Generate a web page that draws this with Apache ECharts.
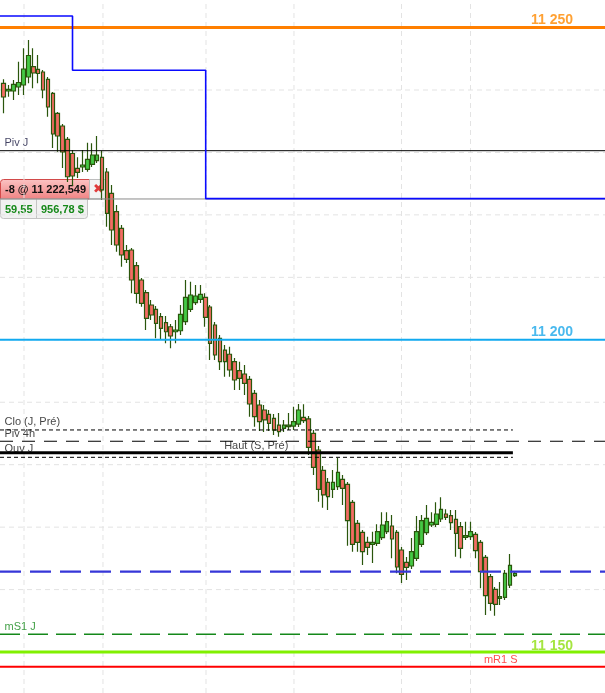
<!DOCTYPE html>
<html lang="fr">
<head>
<meta charset="UTF-8">
<title>Graphique 1 min</title>
<script src="https://cdn.jsdelivr.net/npm/echarts@6.0.0/dist/echarts.min.js"></script>
<style>
    html, body { margin: 0; padding: 0; background: #ffffff; }
    #chart { width: 605px; height: 693px; }
</style>
</head>
<body>
<div id="chart"></div>
<script type="text/javascript">
    // bougies : [ouverture, clôture, plus bas, plus haut]
    var candles = [
        [11241.07, 11238.88, 11236.27, 11241.71], [11239.84, 11240.11, 11238.93, 11240.80],
        [11239.84, 11240.91, 11238.40, 11241.60], [11240.48, 11241.20, 11239.20, 11244.53],
        [11240.80, 11243.36, 11239.20, 11246.68], [11242.08, 11245.52, 11241.07, 11248.00],
        [11243.73, 11242.72, 11240.27, 11246.68], [11243.31, 11242.64, 11241.07, 11245.60],
        [11242.88, 11240.00, 11238.67, 11243.20], [11241.71, 11237.28, 11235.72, 11242.08],
        [11239.47, 11232.95, 11230.71, 11239.68], [11236.27, 11232.63, 11230.12, 11236.48],
        [11234.23, 11230.07, 11227.51, 11234.55], [11232.10, 11226.11, 11225.27, 11232.47],
        [11229.83, 11226.23, 11224.63, 11230.39], [11227.46, 11226.82, 11225.91, 11229.22],
        [11227.67, 11227.99, 11226.87, 11230.39], [11227.30, 11228.90, 11226.92, 11231.56],
        [11228.10, 11229.59, 11227.67, 11231.46], [11228.68, 11229.59, 11228.31, 11232.63],
        [11229.22, 11223.99, 11222.38, 11230.28], [11226.87, 11220.25, 11218.11, 11227.51],
        [11223.46, 11217.58, 11215.18, 11224.79], [11220.51, 11215.18, 11214.10, 11221.58],
        [11217.85, 11213.58, 11211.70, 11218.38], [11214.27, 11212.89, 11212.30, 11215.18],
        [11214.38, 11209.57, 11207.44, 11214.70], [11211.86, 11207.44, 11205.84, 11212.46],
        [11209.57, 11205.84, 11205.30, 11209.89], [11207.54, 11203.44, 11201.57, 11207.97],
        [11205.57, 11203.97, 11203.17, 11206.37], [11204.88, 11202.64, 11200.24, 11205.41],
        [11203.70, 11201.84, 11199.97, 11204.29], [11202.74, 11201.29, 11199.44, 11203.81],
        [11202.09, 11200.61, 11198.64, 11202.53], [11201.29, 11201.57, 11199.44, 11203.17],
        [11201.45, 11204.08, 11200.77, 11205.57], [11202.90, 11206.80, 11202.37, 11209.57],
        [11204.88, 11207.17, 11204.45, 11209.30], [11205.94, 11207.01, 11205.57, 11208.77],
        [11206.48, 11207.28, 11205.89, 11208.77], [11206.80, 11203.60, 11202.09, 11207.44],
        [11205.25, 11199.44, 11196.76, 11205.57], [11202.37, 11197.56, 11196.76, 11202.85],
        [11200.24, 11196.49, 11195.16, 11200.77], [11198.36, 11196.49, 11194.09, 11199.17],
        [11197.68, 11195.16, 11194.09, 11198.89], [11196.49, 11193.56, 11191.96, 11197.08],
        [11195.05, 11193.83, 11191.96, 11196.49], [11194.52, 11193.03, 11191.16, 11195.96],
        [11193.67, 11189.72, 11187.68, 11194.20], [11191.43, 11187.68, 11186.08, 11191.96],
        [11189.56, 11186.88, 11185.39, 11190.36], [11188.76, 11187.16, 11185.23, 11189.56],
        [11188.07, 11186.63, 11185.39, 11188.76], [11187.43, 11185.55, 11184.75, 11188.12],
        [11186.35, 11185.28, 11184.48, 11188.28], [11185.83, 11186.35, 11185.23, 11187.16],
        [11186.08, 11186.35, 11185.55, 11188.28], [11186.19, 11186.88, 11185.55, 11189.28],
        [11186.51, 11188.76, 11186.03, 11189.72], [11187.59, 11187.04, 11186.67, 11189.67],
        [11187.32, 11182.78, 11181.55, 11187.80], [11185.02, 11179.58, 11178.35, 11185.55],
        [11182.35, 11176.06, 11174.07, 11182.99], [11179.10, 11175.15, 11173.11, 11179.79],
        [11177.18, 11174.87, 11172.74, 11177.87], [11176.06, 11177.18, 11174.66, 11179.15],
        [11176.48, 11178.78, 11175.95, 11181.12], [11177.66, 11176.22, 11173.54, 11178.35],
        [11176.86, 11171.03, 11167.03, 11177.23], [11173.98, 11167.25, 11166.07, 11174.34],
        [11170.61, 11167.57, 11166.07, 11171.14], [11169.17, 11166.07, 11163.94, 11169.54],
        [11167.57, 11166.77, 11165.54, 11168.47], [11167.25, 11167.57, 11164.26, 11169.27],
        [11167.41, 11169.27, 11166.98, 11170.45], [11168.31, 11170.34, 11167.94, 11172.38],
        [11169.27, 11170.87, 11168.90, 11172.38], [11170.18, 11168.10, 11165.01, 11171.94],
        [11169.17, 11163.62, 11162.61, 11169.54], [11166.34, 11162.45, 11161.05, 11166.82],
        [11164.37, 11163.57, 11161.53, 11165.22], [11163.78, 11166.07, 11163.30, 11168.26],
        [11165.01, 11169.27, 11164.58, 11171.78], [11167.25, 11171.03, 11166.82, 11171.94],
        [11169.11, 11171.41, 11168.74, 11173.54], [11170.34, 11170.77, 11170.02, 11172.38],
        [11170.45, 11172.10, 11170.02, 11173.98], [11171.30, 11172.85, 11170.82, 11174.77],
        [11172.10, 11171.57, 11171.14, 11172.85], [11171.83, 11170.71, 11169.54, 11172.74],
        [11171.25, 11169.01, 11165.26, 11172.74], [11170.07, 11166.61, 11165.01, 11170.82],
        [11168.37, 11168.63, 11167.94, 11170.87], [11168.47, 11169.27, 11167.94, 11170.87],
        [11168.85, 11166.23, 11165.01, 11169.22], [11167.57, 11162.86, 11160.20, 11167.94],
        [11165.17, 11159.02, 11155.93, 11165.54], [11162.06, 11157.80, 11156.62, 11162.50],
        [11160.04, 11157.64, 11155.82, 11160.41], [11158.60, 11158.86, 11157.53, 11161.21],
        [11158.76, 11162.61, 11158.33, 11163.14], [11160.73, 11163.89, 11160.25, 11165.70],
        [11162.22, 11162.61, 11162.01, 11162.82]
    ];

    // niveaux horizontaux
    var levelKeys   = ['r11250', 'pivJ', 'entry', 'r11200', 'cloJ', 'piv4h', 'hautS', 'ouvJ', 'blueDash', 'ms1J', 'r11150', 'mr1S'];
    var levelTexts  = ['11 250', 'Piv J', '', '11 200', 'Clo (J, Pré)', 'Piv 4h', 'Haut (S, Pré)', 'Ouv J', '', 'mS1 J', '11 150', 'mR1 S'];
    var levelPrices = [11250, 11230.28, 11222.549, 11200, 11185.56, 11183.75, 11181.92, 11181.18, 11162.87, 11152.84, 11150, 11147.65];

    // stop suiveur (marches)
    var stopTimes  = [14, 41.1];
    var stopLevels = [11251.85, 11243.15, 11222.6];

    // grille
    var gridPrices = [11150, 11160, 11170, 11180, 11190, 11200, 11210, 11220, 11230, 11240, 11250];
    var gridTimes  = [4.13, 20.2, 41.16, 59.06, 80.93, 94.97];

    // position ouverte
    var positionQty = -8;
    var entryPrice = 11222.549;
    var resultPoints = '59,55';
    var resultMoney = '956,78 $';

    var xMin = -0.753, xMax = 122.34;
    var yMin = 11143.44, yMax = 11254.41;
    var FONT = '"Liberation Sans", Arial, sans-serif';

    // style de chaque niveau (end = fin de la ligne en unités de barre, sinon toute la largeur)
    var levelStyle = {
        r11250:   { color: '#ff7f00', width: 3, type: 'solid', label: { side: 'right', dx: -31.5, dy: -6.5, color: '#ff8a00', bold: true, size: 14 } },
        pivJ:     { color: '#000000', width: 1, type: 'solid', label: { side: 'left', dx: 5, dy: -7, color: '#14143c' } },
        entry:    { color: '#8a8a8a', width: 1, type: 'solid' },
        r11200:   { color: '#12aaf0', width: 2, type: 'solid', label: { side: 'right', dx: -31.5, dy: -7, color: '#1ba8ea', bold: true, size: 14 } },
        cloJ:     { color: '#000000', width: 1, type: [4, 3], end: 103.6, label: { side: 'left', dx: 5, dy: -7, color: '#111111' } },
        piv4h:    { color: '#000000', width: 1.2, type: [13, 9], label: { side: 'left', dx: 5, dy: -6.5, color: '#111111' } },
        hautS:    { color: '#000000', width: 3, type: 'solid', end: 103.6, label: { side: 'at', x: 51.48, dx: 0, dy: -6.5, color: '#111111' } },
        ouvJ:     { color: '#000000', width: 1, type: [4, 3], end: 103.6, label: { side: 'left', dx: 5, dy: -7.5, color: '#111111' } },
        blueDash: { color: '#3636d8', width: 2.4, type: [21, 9] },
        ms1J:     { color: '#14881a', width: 1.5, type: [20, 8], label: { side: 'left', dx: 5, dy: -7, color: '#14881a' } },
        r11150:   { color: '#80f000', width: 3, type: 'solid', label: { side: 'right', dx: -31.5, dy: -5.5, color: '#8edf10', bold: true, size: 14 } },
        mr1S:     { color: '#ff0000', width: 2, type: 'solid', label: { side: 'right', dx: -87, dy: -6.5, color: '#ff2020' } }
    };

    function frNumber(v, dec) {
        var parts = v.toFixed(dec).split('.');
        parts[0] = parts[0].replace(/\B(?=(\d{3})+(?!\d))/g, ' ');
        return parts.join(',');
    }

    var series = [];

    // lignes de grille
    gridPrices.forEach(function (p) {
        series.push({
            type: 'line', silent: true, symbol: 'none', z: 1,
            data: [[xMin, p], [xMax, p]],
            lineStyle: { color: '#e3e3e3', width: 1, type: [5, 4] }
        });
    });
    gridTimes.forEach(function (t) {
        series.push({
            type: 'line', silent: true, symbol: 'none', z: 1,
            data: [[t, yMin], [t, yMax]],
            lineStyle: { color: '#e3e3e3', width: 1, type: [5, 4] }
        });
    });

    // bougies
    series.push({
        type: 'candlestick', z: 2, silent: true,
        barWidth: 4.2,
        data: candles.map(function (c, i) { return [i].concat(c); }),
        itemStyle: {
            color: '#45c945', color0: '#f36c64',
            borderColor: '#2a560c', borderColor0: '#2a560c', borderColorDoji: '#2a560c',
            borderWidth: 1.2
        }
    });

    // niveaux
    var labelItems = [];
    levelKeys.forEach(function (k, i) {
        var st = levelStyle[k];
        var p = levelPrices[i];
        series.push({
            type: 'line', silent: true, symbol: 'none', z: 4,
            data: [[xMin, p], [st.end != null ? st.end : xMax, p]],
            lineStyle: { color: st.color, width: st.width, type: st.type }
        });
        if (st.label && levelTexts[i]) {
            var lb = st.label;
            var x = lb.side === 'left' ? xMin : (lb.side === 'right' ? xMax : lb.x);
            labelItems.push({
                value: [x, p],
                label: {
                    show: true,
                    formatter: levelTexts[i],
                    position: [0, 0],
                    offset: [lb.dx, lb.dy],
                    align: lb.side === 'left' ? 'left' : (lb.side === 'right' ? 'right' : 'center'),
                    verticalAlign: 'middle',
                    color: lb.color,
                    fontFamily: FONT,
                    fontSize: lb.size || 11,
                    fontWeight: lb.bold ? 'bold' : 'normal'
                }
            });
        }
    });

    // stop suiveur
    var stopData = [[xMin, stopLevels[0]]];
    stopTimes.forEach(function (t, i) {
        stopData.push([t, stopLevels[i]]);
        stopData.push([t, stopLevels[i + 1]]);
    });
    stopData.push([xMax, stopLevels[stopLevels.length - 1]]);
    series.push({
        type: 'line', silent: true, symbol: 'none', z: 5,
        data: stopData,
        lineStyle: { color: '#0a0aff', width: 1.6 }
    });

    // étiquettes
    series.push({
        type: 'scatter', silent: true, clip: false, z: 3,
        symbolSize: 1,
        itemStyle: { color: 'rgba(0,0,0,0)' },
        data: labelItems
    });

    var chart = echarts.init(document.getElementById('chart'));
    chart.setOption({
        animation: false,
        backgroundColor: '#ffffff',
        grid: { left: 0, right: 0, top: 0, bottom: 0 },
        xAxis: { type: 'value', min: xMin, max: xMax, show: false },
        yAxis: { type: 'value', min: yMin, max: yMax, show: false, scale: true },
        series: series
    });

    // cartouche de la position
    var yEntry = Math.round(chart.convertToPixel({ gridIndex: 0 }, [xMin, entryPrice])[1]);
    var boxFont = 'bold 11px ' + FONT;
    chart.setOption({
        graphic: [{
            type: 'group', x: 0, y: yEntry - 20, z: 100,
            children: [
                {
                    type: 'rect', shape: { x: 0.5, y: 0.5, width: 89, height: 19.5, r: [3, 0, 0, 0] },
                    style: {
                        fill: new echarts.graphic.LinearGradient(0, 0, 0, 1, [
                            { offset: 0, color: '#fbc4c4' }, { offset: 1, color: '#f08282' }
                        ]),
                        stroke: '#d24a4a', lineWidth: 1
                    }
                },
                {
                    type: 'rect', shape: { x: 89.5, y: 0.5, width: 18, height: 19.5, r: [0, 3, 0, 0] },
                    style: { fill: '#f3f3f3', stroke: '#bdbdbd', lineWidth: 1 }
                },
                {
                    type: 'text', x: 98.5, y: 10.5,
                    style: { text: '✖', fill: '#e03a3a', font: 'bold 13px "DejaVu Sans"', align: 'center', verticalAlign: 'middle' }
                },
                {
                    type: 'text', x: 5, y: 11,
                    style: { text: positionQty + ' @ ' + frNumber(entryPrice, 3), fill: '#111111', font: boxFont, verticalAlign: 'middle' }
                },
                {
                    type: 'rect', shape: { x: 0.5, y: 20, width: 87, height: 19.5, r: [0, 0, 3, 3] },
                    style: { fill: '#f1f1f1', stroke: '#c4c4c4', lineWidth: 1 }
                },
                {
                    type: 'line', shape: { x1: 36.5, y1: 20, x2: 36.5, y2: 39.5 },
                    style: { stroke: '#c4c4c4', lineWidth: 1 }
                },
                {
                    type: 'text', x: 5, y: 30.5,
                    style: { text: resultPoints, fill: '#17891a', font: boxFont, verticalAlign: 'middle' }
                },
                {
                    type: 'text', x: 41, y: 30.5,
                    style: { text: resultMoney, fill: '#17891a', font: boxFont, verticalAlign: 'middle' }
                }
            ]
        }]
    });
</script>
</body>
</html>
